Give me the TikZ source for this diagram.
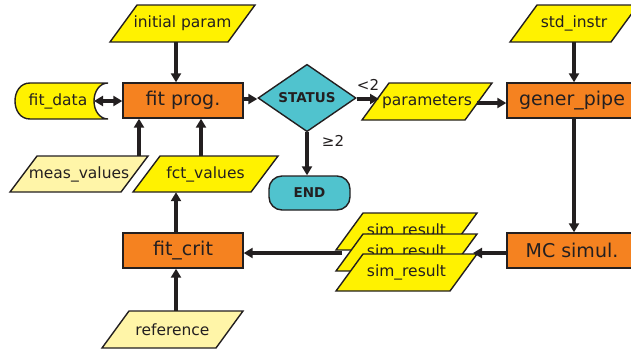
\documentclass[tikz,border=0pt]{standalone}
\usepackage{fontspec}
\setmainfont{DejaVu Sans}
\usetikzlibrary{shapes.geometric,arrows.meta}
\definecolor{yel}{HTML}{FFF200}
\definecolor{lyel}{HTML}{FFF5A8}
\definecolor{org}{HTML}{F58220}
\definecolor{cyn}{HTML}{50C3CE}
\definecolor{ink}{HTML}{231F20}
\tikzset{
  base/.style={draw=ink, line width=1.4pt, text=ink, inner sep=0pt},
  procbox/.style={base, rectangle, fill=org, minimum height=35pt, font=\fontsize{19}{21}\selectfont},
  ptext/.style={text=ink, inner sep=0pt, rectangle, font=\fontsize{15.5}{17}\selectfont},
  decision/.style={base, diamond, fill=cyn, font=\bfseries\fontsize{13.5}{15}\selectfont},
  terminal/.style={base, rectangle, rounded corners=13pt, fill=cyn, font=\bfseries\fontsize{13.5}{15}\selectfont},
  lbl/.style={text=ink, inner sep=0pt, font=\fontsize{15}{17}\selectfont},
  arr/.style={draw=ink, line width=3.5pt, -{Triangle[length=9pt,width=10pt]}},
  darr/.style={draw=ink, line width=3.5pt, {Triangle[length=9pt,width=10pt]}-{Triangle[length=9pt,width=10pt]}}
}
% parallelogram: name, bottom-left x, top-right x, top y, bottom y, fill, text
\newcommand\drawpara[7]{%
  \draw[base, fill=#6] (#2,#5) -- (#2+27,#4) -- (#3,#4) -- (#3-27,#5) -- cycle;
  \node[ptext, minimum width=#3-#2-27, minimum height=#5-#4] (#1) at ({(#2+#3)/2},{(#4+#5)/2}) {#7};
}
\begin{document}
\begin{tikzpicture}[x=1pt,y=-1pt]
\useasboundingbox (0,0) rectangle (631,354);
\clip (0,0) rectangle (631,354);

% process boxes
\node[procbox, minimum width=120pt] (fp) at (183,100.5) {fit prog.};
\node[procbox, minimum width=120pt] (fc) at (183,250.5) {fit\_crit};
\node[procbox, minimum width=130pt] (gp) at (572,100.5) {gener\_pipe};
\node[procbox, minimum width=130pt] (mc) at (572,250.5) {MC simul.};

% data
\drawpara{ip}{110}{255}{5}{42}{yel}{initial param}
\drawpara{si}{510}{638}{5}{42}{yel}{std\_instr}
\drawpara{mv}{10}{148}{156}{192}{lyel}{meas\_values}
\drawpara{fv}{133}{278}{156}{192}{yel}{fct\_values}
\drawpara{pa}{362}{492}{83}{120}{yel}{parameters}
\drawpara{rf}{102}{243}{311}{348}{lyel}{reference}

% sim_result stack
\drawpara{sr1}{336}{477}{213}{250}{yel}{sim\_result}
\drawpara{sr2}{336}{477}{234}{271}{yel}{sim\_result}
\drawpara{sr3}{336}{477}{254}{291}{yel}{sim\_result}

% stored data
\draw[base, fill=yel] (108,83) -- (30,83) .. controls (20,83) and (15,92) .. (15,101)
  .. controls (15,110) and (20,119) .. (30,119) -- (108,119)
  .. controls (100,119) and (94,111) .. (94,101)
  .. controls (94,91) and (100,83) .. (108,83) -- cycle;
\node[ptext] (fd) at (58,101) {fit\_data};
\coordinate (fdR) at (94,101);

% decision and terminal
\node[decision, minimum width=98pt, minimum height=62pt] (st) at (307,98) {STATUS};
\node[terminal, minimum width=81pt, minimum height=34pt] (en) at (309.5,193) {END};

% labels
\node[lbl] (lt) at (368,84.5) {<2};
\node[lbl] (ge) at (333,141) {≥2};

% helper coordinates
\coordinate (x176) at (176,0);
\coordinate (x139) at (139,0);
\coordinate (x201) at (201,0);
\coordinate (x307) at (307,0);
\coordinate (x574) at (574,0);
\coordinate (y99) at (0,99);
\coordinate (y101) at (0,101);
\coordinate (y103) at (0,103);
\coordinate (y253) at (0,253);
\coordinate (paL) at (379,99);
\coordinate (paR) at (477,103);
\coordinate (srR) at (473,253);
\coordinate (srL) at (342,253);

% connectors
\draw[arr] (ip.south -| x176) -- (fp.north -| x176);
\draw[darr] (fdR) -- (fp.west |- y101);
\draw[arr] (fp.east |- y99) -- (st.west |- y99);
\draw[arr] (mv.north -| x139) -- (fp.south -| x139);
\draw[arr] (fv.north -| x201) -- (fp.south -| x201);
\draw[arr] (st.south -| x307) -- (en.north -| x307);
\draw[arr] (st.east |- y99) -- (paL);
\draw[arr] (paR) -- (gp.west |- y103);
\draw[arr] (si.south -| x574) -- (gp.north -| x574);
\draw[arr] (gp.south -| x574) -- (mc.north -| x574);
\draw[arr] (mc.west |- y253) -- (srR);
\draw[arr] (srL) -- (fc.east |- y253);
\draw[arr] (fc.north -| x176) -- (fv.south -| x176);
\draw[arr] (rf.north -| x176) -- (fc.south -| x176);
\end{tikzpicture}
\end{document}
